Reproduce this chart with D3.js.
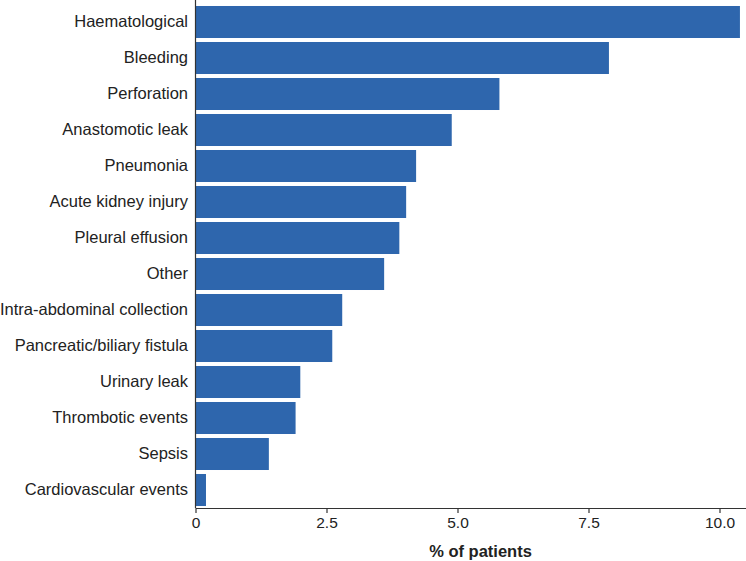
<!DOCTYPE html>
<html>
<head>
<meta charset="utf-8">
<script src="https://cdn.jsdelivr.net/npm/d3@7"></script>
<style>
  body { margin: 0; background: #fff; }
  svg { display: block; font-family: "Liberation Sans", Arial, Helvetica, sans-serif; }
</style>
</head>
<body>
<svg id="chart" width="746" height="561"></svg>
<script>
const categories = [
  "Haematological", "Bleeding", "Perforation", "Anastomotic leak", "Pneumonia",
  "Acute kidney injury", "Pleural effusion", "Other", "Intra-abdominal collection",
  "Pancreatic/biliary fistula", "Urinary leak", "Thrombotic events", "Sepsis",
  "Cardiovascular events"
];
const values = [10.39, 7.89, 5.80, 4.89, 4.21, 4.02, 3.89, 3.60, 2.80, 2.61, 2.00, 1.91, 1.40, 0.20];
const xTicks = [0, 2.5, 5.0, 7.5, 10.0];
const xTickLabels = ["0", "2.5", "5.0", "7.5", "10.0"];
const xTitle = "% of patients";

const svg = d3.select("#chart");
const mLeft = 195.5, mTop = 4, mBottom = 508;

const x = d3.scaleLinear().domain([0, 10.5]).range([mLeft, mLeft + 10.5 * 52.4]);
const y = d3.scaleBand().domain(categories).range([mTop, mBottom]).paddingInner(0.111).paddingOuter(0.0555);

svg.append("g").selectAll("rect").data(categories).join("rect")
  .attr("x", x(0))
  .attr("y", d => y(d))
  .attr("width", (d, i) => x(values[i]) - x(0))
  .attr("height", y.bandwidth())
  .attr("fill", "#2e66ad");

// x axis
const xAxis = d3.axisBottom(x).tickValues(xTicks).tickFormat((d, i) => xTickLabels[i]).tickSize(5).tickPadding(4).tickSizeOuter(0);
const gx = svg.append("g").attr("transform", `translate(0,${mBottom})`).call(xAxis);
gx.select(".domain").attr("stroke", "#333").attr("stroke-width", 1.2);
gx.selectAll(".tick line").attr("stroke", "#333").attr("stroke-width", 1.2);
gx.selectAll(".tick text").attr("font-size", 15.5).attr("fill", "#222").attr("font-family", "Liberation Sans, Arial, sans-serif");

// y axis
const yAxis = d3.axisLeft(y).tickSize(0).tickPadding(7.5);
const gy = svg.append("g").attr("transform", `translate(${mLeft},0)`).call(yAxis);
gy.select(".domain").attr("stroke", "#333").attr("stroke-width", 1.2).attr("d", `M0,0V${mBottom}`);
gy.selectAll(".tick text").attr("font-size", 16.5).attr("fill", "#222").attr("font-family", "Liberation Sans, Arial, sans-serif");

svg.append("text")
  .attr("x", 480.5)
  .attr("y", 557)
  .attr("text-anchor", "middle")
  .attr("font-size", 16.5)
  .attr("font-weight", "bold")
  .attr("fill", "#222")
  .text(xTitle);
</script>
</body>
</html>
